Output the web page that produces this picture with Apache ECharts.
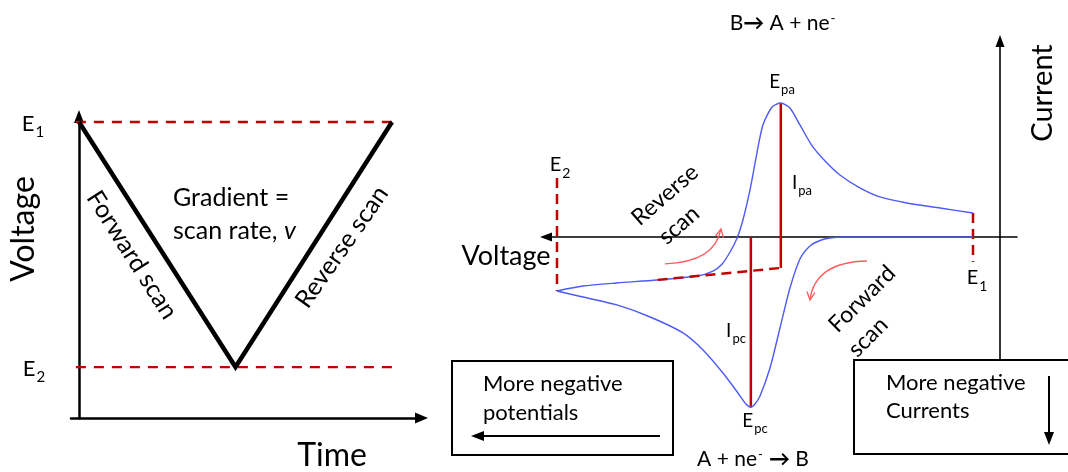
<!DOCTYPE html>
<html><head><meta charset="utf-8">
<script src="https://cdn.jsdelivr.net/npm/echarts@6/dist/echarts.min.js"></script>
<style>html,body{margin:0;padding:0;background:#fff}#c{width:1068px;height:472px}</style>
</head><body><div id="c"></div>
<script>
// ================= DATA =================
// Switching potentials (V)
const E1 = 0.8, E2 = -0.2;
// Left panel: applied triangular waveform (time s, potential V)
const waveTime = [0, 10, 20];
const waveVolt = [E1, E2, E1];
const switchLineTime = [-2.5, 20];          // extent of the dashed E1/E2 guide lines

// Right panel: cyclic voltammogram (potential V, current µA)
const fwdV = [0.800, 0.625, 0.528, 0.488, 0.456, 0.432, 0.408, 0.384, 0.360, 0.336, 0.312, 0.288, 0.276, 0.266, 0.254, 0.235, 0.199, 0.151, 0.103, 0.024, -0.056, -0.138, -0.200];
const fwdI = [0.00, 0.00, 0.00, 0.00, -0.07, -0.26, -0.67, -1.64, -3.81, -6.79, -9.78, -11.87, -12.46, -12.70, -12.46, -11.64, -10.15, -8.43, -7.16, -5.97, -5.07, -4.48, -4.03];
const revV = [-0.200, -0.138, -0.056, 0.040, 0.137, 0.175, 0.197, 0.216, 0.233, 0.247, 0.264, 0.281, 0.295, 0.317, 0.338, 0.360, 0.384, 0.415, 0.449, 0.480, 0.528, 0.576, 0.641, 0.721, 0.800];
const revI = [-4.03, -3.66, -3.43, -3.21, -2.91, -2.54, -2.01, -1.12, -0.07, 1.27, 3.51, 6.34, 8.36, 9.70, 10.00, 9.63, 8.36, 6.72, 5.52, 4.63, 3.66, 2.99, 2.54, 2.16, 1.79];
const Epa = 0.338, Ipa = 10.00, Epc = 0.266, Ipc = -12.70;
const baselineV = [0.042, 0.338];           // extrapolated baseline for Ipa
const baselineI = [-3.20, -2.31];
const e2MarkI = [4.40, -4.03];              // dashed marker at E2
const e1MarkI = [1.79, -1.87];              // dashed marker at E1
// curved scan-direction arrows: [startV, startI, ctrlV, ctrlI, endV, endI]
const scanArrows = [
  [0.0596, -2.01, 0.180, -1.87, 0.194, 0.60],   // reverse scan
  [0.545, -1.79, 0.420, -1.87, 0.408, -4.70]    // forward scan
];

// ================= CHART =================
const F = 'Lato, "Open Sans", sans-serif';
const RED = '#C00000', BLUE = '#4d5af7', PINK = '#ff5c5c', INK = '#000';
const zip = (a, b) => a.map((v, i) => [v, b[i]]);

function sub(main, s, size, x, y) {
  return {type: 'text', x, y, z: 100, style: {
    text: '{m|' + main + '}{s|' + s + '}', align: 'center', verticalAlign: 'middle', fill: INK,
    rich: {
      m: {fontSize: size, fontFamily: F, fill: INK, lineHeight: size * 1.2, verticalAlign: 'top'},
      s: {fontSize: Math.round(size * 0.7), fontFamily: F, fill: INK, lineHeight: size * 0.7, verticalAlign: 'top', padding: [size * 0.55, 0, 0, 1]}
    }}};
}
function txt(text, x, y, size, rot, align) {
  return {type: 'text', x, y, z: 100, rotation: (rot || 0) * Math.PI / 180,
    style: {text, font: size + 'px ' + F, fill: INK, align: align || 'center', verticalAlign: 'middle'}};
}
function react(parts, x, y, size) {
  return {type: 'text', x, y, z: 100, style: {
    text: parts, align: 'center', verticalAlign: 'middle', fill: INK,
    rich: {
      n: {fontSize: size, fontFamily: F, fill: INK, lineHeight: size * 1.2, verticalAlign: 'top'},
      b: {fontSize: size, fontFamily: F, fontWeight: 'bold', fill: INK, lineHeight: size * 1.2, verticalAlign: 'top'},
      p: {fontSize: Math.round(size * 0.6), fontFamily: F, fill: INK, lineHeight: size * 0.6, verticalAlign: 'top', padding: [0, 1, 0, 1]}
    }}};
}

const hidden = {axisTick: {show: false}, axisLabel: {show: false}, splitLine: {show: false}};
const axisLineStyle = (w) => ({color: '#000', width: w});

const chart = echarts.init(document.getElementById('c'));
chart.setOption({
  animation: false,
  backgroundColor: '#fff',
  grid: [
    {left: 71, top: 116.5, width: 350.5, height: 301.5},
    {left: 546, top: 41, width: 471, height: 319}
  ],
  xAxis: [
    Object.assign({type: 'value', gridIndex: 0, min: -0.511, max: 21.885,
      axisLine: {show: true, onZero: false, symbol: ['none', 'triangle'], symbolSize: [11, 13], lineStyle: axisLineStyle(2.5)}}, hidden),
    Object.assign({type: 'value', gridIndex: 1, min: -0.22644, max: 0.90577,
      axisLine: {show: true, onZero: true, symbol: ['triangle', 'none'], symbolSize: [9, 12], lineStyle: axisLineStyle(1.6)}}, hidden)
  ],
  yAxis: [
    Object.assign({type: 'value', gridIndex: 0, min: -0.408, max: 0.8224,
      axisLine: {show: true, onZero: true, symbol: ['none', 'triangle'], symbolSize: [10, 13], lineStyle: axisLineStyle(2.5)}}, hidden),
    Object.assign({type: 'value', gridIndex: 1, position: 'right', offset: -17, min: -9.1791, max: 14.6269,
      axisLine: {show: true, onZero: false, symbol: ['none', 'triangle'], symbolSize: [9, 12], lineStyle: axisLineStyle(1.6)}}, hidden)
  ],
  series: [
    {type: 'line', xAxisIndex: 0, yAxisIndex: 0, data: zip(switchLineTime, [E1, E1]), symbol: 'none', clip: false,
      lineStyle: {color: RED, width: 2.3, type: [10, 8]}, z: 2},
    {type: 'line', xAxisIndex: 0, yAxisIndex: 0, data: zip(switchLineTime, [E2, E2]), symbol: 'none', clip: false,
      lineStyle: {color: RED, width: 2.3, type: [10, 8]}, z: 2},
    {type: 'line', xAxisIndex: 0, yAxisIndex: 0, data: zip(waveTime, waveVolt), symbol: 'none', clip: false,
      lineStyle: {color: '#000', width: 4.5, join: 'miter'}, z: 3},

    {type: 'line', xAxisIndex: 1, yAxisIndex: 1, data: zip(fwdV, fwdI), symbol: 'none', clip: false, smooth: 0.25,
      lineStyle: {color: BLUE, width: 1.4}, z: 4},
    {type: 'line', xAxisIndex: 1, yAxisIndex: 1, data: zip(revV, revI), symbol: 'none', clip: false, smooth: 0.25,
      lineStyle: {color: BLUE, width: 1.4}, z: 4},
    {type: 'line', xAxisIndex: 1, yAxisIndex: 1, data: zip([E2, E2], e2MarkI), symbol: 'none', clip: false,
      lineStyle: {color: RED, width: 2.5, type: [10, 6]}, z: 3},
    {type: 'line', xAxisIndex: 1, yAxisIndex: 1, data: zip([E1, E1], e1MarkI), symbol: 'none', clip: false,
      lineStyle: {color: RED, width: 2.5, type: [10, 6]}, z: 3},
    {type: 'line', xAxisIndex: 1, yAxisIndex: 1, data: zip(baselineV, baselineI), symbol: 'none', clip: false,
      lineStyle: {color: RED, width: 2.5, type: [10, 6]}, z: 6},
    {type: 'line', xAxisIndex: 1, yAxisIndex: 1, data: zip([Epa, Epa], [Ipa, baselineI[1]]), symbol: 'none', clip: false,
      lineStyle: {color: RED, width: 2.5}, z: 3},
    {type: 'line', xAxisIndex: 1, yAxisIndex: 1, data: zip([Epc, Epc], [0, Ipc]), symbol: 'none', clip: false,
      lineStyle: {color: RED, width: 2.5}, z: 3},
    {type: 'custom', xAxisIndex: 1, yAxisIndex: 1, clip: false, z: 5,
      encode: {x: [0, 2, 4], y: [1, 3, 5]},
      data: scanArrows,
      renderItem: function (params, api) {
        const p0 = api.coord([api.value(0), api.value(1)]);
        const c = api.coord([api.value(2), api.value(3)]);
        const p1 = api.coord([api.value(4), api.value(5)]);
        const dx = p1[0] - c[0], dy = p1[1] - c[1], L = Math.hypot(dx, dy);
        const ux = dx / L, uy = dy / L, ah = 8, aw = 4;
        const a = [p1[0] - ux * ah - uy * aw, p1[1] - uy * ah + ux * aw];
        const b = [p1[0] - ux * ah + uy * aw, p1[1] - uy * ah - ux * aw];
        return {type: 'group', children: [
          {type: 'bezierCurve', shape: {x1: p0[0], y1: p0[1], cpx1: c[0], cpy1: c[1], x2: p1[0], y2: p1[1]},
            style: {stroke: PINK, lineWidth: 1.3, fill: null}},
          {type: 'polyline', shape: {points: [a, p1, b]}, style: {stroke: PINK, lineWidth: 1.3, fill: null}}
        ]};
      }}
  ],
  graphic: [
    // boxes
    {type: 'rect', z: 50, shape: {x: 452, y: 361, width: 221, height: 94}, style: {fill: '#fff', stroke: '#000', lineWidth: 2}},
    {type: 'rect', z: 50, shape: {x: 854, y: 360, width: 220, height: 94}, style: {fill: '#fff', stroke: '#000', lineWidth: 2}},
    {type: 'line', z: 60, shape: {x1: 660, y1: 436, x2: 482, y2: 436}, style: {stroke: '#000', lineWidth: 2}},
    {type: 'polygon', z: 60, shape: {points: [[471, 436], [484, 431], [484, 441]]}, style: {fill: '#000'}},
    {type: 'line', z: 60, shape: {x1: 1049, y1: 376, x2: 1049, y2: 434}, style: {stroke: '#000', lineWidth: 2}},
    {type: 'polygon', z: 60, shape: {points: [[1049, 445], [1044, 432], [1054, 432]]}, style: {fill: '#000'}},
    txt('More negative', 483, 384, 22, 0, 'left'),
    txt('potentials', 483, 413, 22, 0, 'left'),
    txt('More negative', 886, 383, 22, 0, 'left'),
    txt('Currents', 886, 411, 22, 0, 'left'),
    // left panel texts
    txt('Voltage', 24, 229, 32, 90),
    txt('Time', 332, 456, 32),
    txt('Gradient =', 173, 198, 25, 0, 'left'),
    {type: 'text', x: 173, y: 231, z: 100, style: {text: '{a|scan rate, }{b|v}', align: 'left', verticalAlign: 'middle',
      rich: {a: {fontSize: 25, fontFamily: F, fill: INK}, b: {fontSize: 25, fontFamily: F, fontStyle: 'italic', fill: INK}}}},
    txt('Forward scan', 132, 255, 25, -57.5),
    txt('Reverse scan', 342, 247, 25, 55),
    sub('E', '1', 22, 33, 126),
    sub('E', '2', 22, 34, 371),
    // right panel texts
    react('{n|B}{b|→}{n| A + ne}{p|-}', 783, 25, 21),
    react('{n|A + ne}{p|-}{b| →}{n| B}', 753, 461, 21),
    txt('Current', 1043, 93, 29, 90),
    txt('Voltage', 506, 256, 27),
    sub('E', '2', 20, 560, 167),
    sub('E', '1', 20, 977, 280),
    sub('E', 'pa', 19, 782, 84),
    sub('I', 'pa', 19, 802, 185),
    sub('I', 'pc', 19, 736, 333),
    sub('E', 'pc', 19, 755, 423),
    txt('Reverse', 665, 195, 23, 41),
    txt('scan', 679, 225, 23, 41),
    txt('Forward', 862, 299, 23, 45),
    txt('scan', 868, 337, 23, 45)
  ]
});
</script></body></html>
